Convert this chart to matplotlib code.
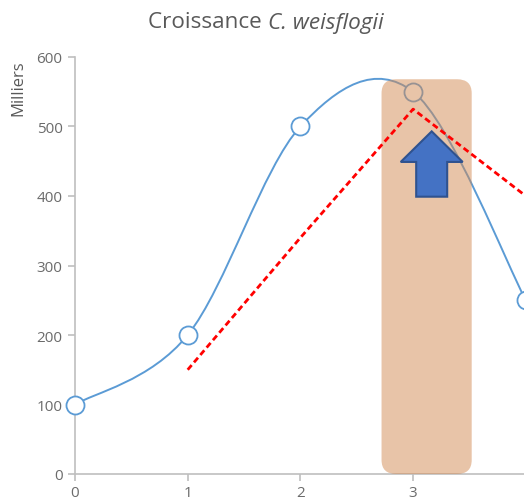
import matplotlib.pyplot as plt
from matplotlib.path import Path
from matplotlib.patches import PathPatch, FancyBboxPatch, FancyArrow

plt.rcParams['font.family'] = ['Open Sans', 'DejaVu Sans']

# data
days = [0, 1, 2, 3, 4]
cells = [100, 200, 500, 550, 250]          # milliers
trend_days = [1, 2, 3, 4]
trend = [150, 340, 525, 400]
xticks = [0, 1, 2, 3]
yticks = [0, 100, 200, 300, 400, 500, 600]

grey = '#595959'
blue = '#5B9BD5'


def smooth_path(xs, ys):
    # excel-like smoothed line : cubic bezier, catmull-rom control points
    pts = list(zip(xs, ys))
    verts = [pts[0]]
    codes = [Path.MOVETO]
    n = len(pts)
    for i in range(n - 1):
        p0 = pts[max(i - 1, 0)]
        p1 = pts[i]
        p2 = pts[i + 1]
        p3 = pts[min(i + 2, n - 1)]
        c1 = (p1[0] + (p2[0] - p0[0]) / 6, p1[1] + (p2[1] - p0[1]) / 6)
        c2 = (p2[0] - (p3[0] - p1[0]) / 6, p2[1] - (p3[1] - p1[1]) / 6)
        verts += [c1, c2, p2]
        codes += [Path.CURVE4] * 3
    return Path(verts, codes)


fig = plt.figure(figsize=(5.24, 5.02), dpi=100)
ax = fig.add_axes([75 / 524, 1 - 475 / 502, 449 / 524, 417 / 502])
ax.set_xlim(0, 449 / 112.7)
ax.set_ylim(0, 600)

# smoothed growth curve + markers
ax.add_patch(PathPatch(smooth_path(days, cells), fill=False, edgecolor=blue,
                       lw=1.4, zorder=2, clip_on=False))
ax.plot(days, cells, ls='none', marker='o', ms=13, mfc='white', mec=blue,
        mew=1.3, zorder=3, clip_on=False)

# highlighted zone
box = FancyBboxPatch((2.72 + 0.13, 0 + 0.13 * 155), 0.8 - 0.26, 568 - 2 * 0.13 * 155,
                     boxstyle='round,pad=0.13', mutation_aspect=155,
                     facecolor='#D38A52', edgecolor='none', alpha=0.5, zorder=4)
ax.add_patch(box)

# trend (dashed red)
ax.plot(trend_days, trend, color='red', ls=(0, (2.2, 1.3)), lw=2, zorder=5,
        clip_on=False)

# arrow
ax.add_patch(FancyArrow(3.165, 399, 0, 94, width=0.275, head_width=0.55,
                        head_length=44, length_includes_head=True,
                        facecolor='#4472C4', edgecolor='#2F528F', lw=1.5,
                        zorder=6))

for s in ['top', 'right']:
    ax.spines[s].set_visible(False)
for s in ['left', 'bottom']:
    ax.spines[s].set_color('#BFBFBF')
    ax.spines[s].set_linewidth(1.2)

ax.set_xticks(xticks)
ax.set_yticks(yticks)
ax.tick_params(colors='#BFBFBF', labelcolor='#6b6b6b', labelsize=11, length=5,
               width=1.2)
ax.tick_params(axis='y', pad=4)
ax.tick_params(axis='x', pad=3)

fig.text(18 / 524, 1 - 88 / 502, 'Milliers', rotation=90, ha='center',
         va='center', color=grey, fontsize=12)

# title, species name in italic
t1 = fig.text(148 / 524, 1 - 23 / 502, 'Croissance ', ha='left', va='center',
              color=grey, fontsize=16.2)
ax.annotate('C. weisflogii', xy=(1, 0.5), xycoords=t1, ha='left', va='center',
            color=grey, fontsize=16.2, style='italic', annotation_clip=False)

fig.savefig('out.png', dpi=100)
